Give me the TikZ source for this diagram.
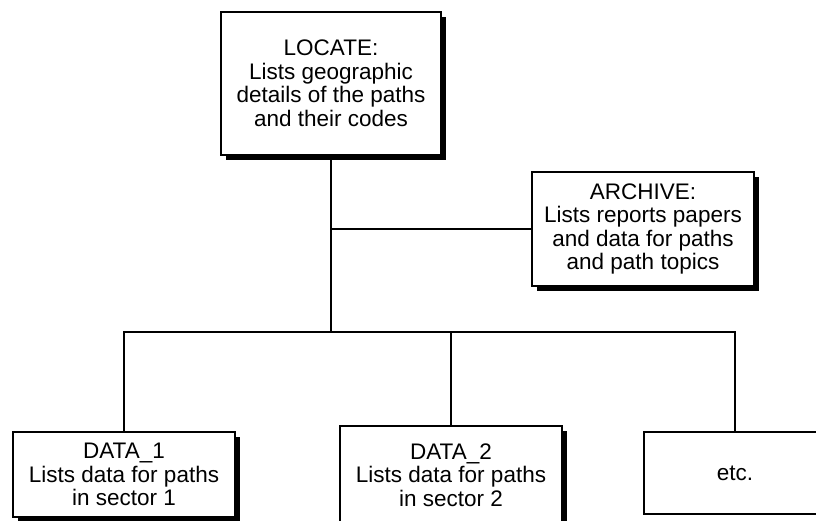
\documentclass[tikz,border=0pt]{standalone}
\usepackage{fontspec}
\setmainfont{Liberation Sans}
\usetikzlibrary{shadows}

\tikzset{
  card/.style={draw, line width=1.5pt, fill=white, align=center, inner sep=0pt,
    font=\fontsize{22.5}{23.5}\selectfont},
  shade/.style={drop shadow={shadow xshift=4.5pt, shadow yshift=-4.5pt, fill=black, opacity=1}},
  link/.style={line width=1.6pt}
}

\begin{document}
\begin{tikzpicture}[x=1pt, y=-1pt]
        \useasboundingbox (0,0) rectangle (816,520);

        \node[card, shade, minimum width=220pt, minimum height=143pt] (locate) at (331,83.5)
            {LOCATE:\\Lists geographic\\details of the paths\\and their codes};
        \node[card, shade, minimum width=222pt, minimum height=114pt] (archive) at (643,229)
            {ARCHIVE:\\Lists reports papers\\and data for paths\\and path topics};

        \node[card, shade, minimum width=222pt, minimum height=85pt] (data1) at (124,474.5)
            {DATA\_1\\Lists data for paths\\in sector 1};
        \node[card, shade, minimum width=222pt, minimum height=98pt] (data2) at (451,475)
            {DATA\_2\\Lists data for paths\\in sector 2};
        \node[card, minimum width=182pt, minimum height=82pt] (etc) at (735,473) {etc.};

        \coordinate (bus) at (331,332);

        \draw[link] (locate.south) -- (locate.south |- bus);
        \draw[link] (archive.west) -- (archive.west -| locate.south);
        \draw[link] (data1.north) |- (bus) -| (etc.north);
        \draw[link] (data2.north) -- (data2.north |- bus);
    \end{tikzpicture}
\end{document}
